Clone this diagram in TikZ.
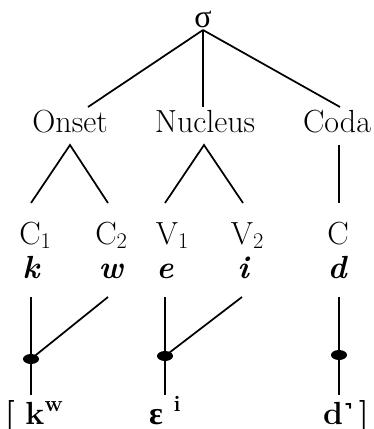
\documentclass[tikz,border=0pt]{standalone}
\usepackage{fontspec}
\newfontfamily\ipa{Liberation Serif}
\usetikzlibrary{shapes.geometric,calc}
\begin{document}
\begin{tikzpicture}[x=0.75pt,y=-0.75pt,
  lab/.style={inner sep=0pt,anchor=base,font=\fontsize{24}{28}\selectfont},
  seg/.style={inner sep=0pt,anchor=base,font=\fontsize{24}{28}\selectfont\bfseries\itshape},
  outp/.style={inner sep=0pt,anchor=base,font=\fontsize{24}{28}\selectfont\bfseries},
  ln/.style={line width=1.3pt},
  dotn/.style={ellipse,fill=black,inner sep=0pt,minimum width=12pt,minimum height=7.5pt}]
\useasboundingbox (0,0) rectangle (374,429);
% syllable level
\node[lab] (sig) at (203,27) {\ipa σ};
\node[lab] (on) at (70,132) {Onset};
\node[lab] (nu) at (205,132) {Nucleus};
\node[lab] (co) at (337,132) {Coda};
% skeletal level
\node[lab] (c1) at (30,244) {C\rlap{\textsubscript{1}}};
\node[lab] (c2) at (106,244) {C\rlap{\textsubscript{2}}};
\node[lab] (v1) at (167,244) {V\rlap{\textsubscript{1}}};
\node[lab] (v2) at (242,244) {V\rlap{\textsubscript{2}}};
\node[lab] (cc) at (338,244) {C};
% segments
\node[seg] (k) at (31,278) {k};
\node[seg] (w) at (111,278) {w};
\node[seg] (e) at (165,278) {e};
\node[seg] (i) at (243,278) {i};
\node[seg] (d) at (337,278) {d};
% output
\node[outp] (kw) at (35,424) {\llap{[\,\,}k\rlap{\textsuperscript{w}}};
\node[outp] (eps) at (156,424) {{\ipa ɛ}\rlap{\,\,\textsuperscript{i}}};
\node[outp] (dd) at (333,424) {d\rlap{{\ipa ˺}\,]}};
% dots
\node[dotn] (dk) at (31,359) {};
\node[dotn] (de) at (165,356) {};
\node[dotn] (ddot) at (339,355) {};
% tree lines
\draw[ln] ($(sig.base)+(0,3)$) -- ($(on.base)+(18,-25)$);
\draw[ln] ($(sig.base)+(0,3)$) -- ($(nu.base)+(-2,-25)$);
\draw[ln] ($(sig.base)+(0,3)$) -- ($(co.base)+(3,-25)$);
\draw[ln] ($(c1.base)+(1,-41)$) -- ($(on.base)+(0,13)$) -- ($(c2.base)+(2,-41)$);
\draw[ln] ($(v1.base)+(-2,-41)$) -- ($(nu.base)+(-1,13)$) -- ($(v2.base)+(1,-41)$);
\draw[ln] ($(co.base)+(2,13)$) -- ($(cc.base)+(1,-41)$);
% association lines
\draw[ln] ($(k.base)+(0,19)$) -- (dk.center) -- ($(kw.base)+(-4,-29)$);
\draw[ln] ($(w.base)+(-3,19)$) -- (dk.center);
\draw[ln] ($(e.base)+(0,19)$) -- (de.center) -- ($(eps.base)+(9,-29)$);
\draw[ln] ($(i.base)+(-1,19)$) -- (de.center);
\draw[ln] ($(d.base)+(2,19)$) -- (ddot.center) -- ($(dd.base)+(6,-29)$);
\end{tikzpicture}
\end{document}
